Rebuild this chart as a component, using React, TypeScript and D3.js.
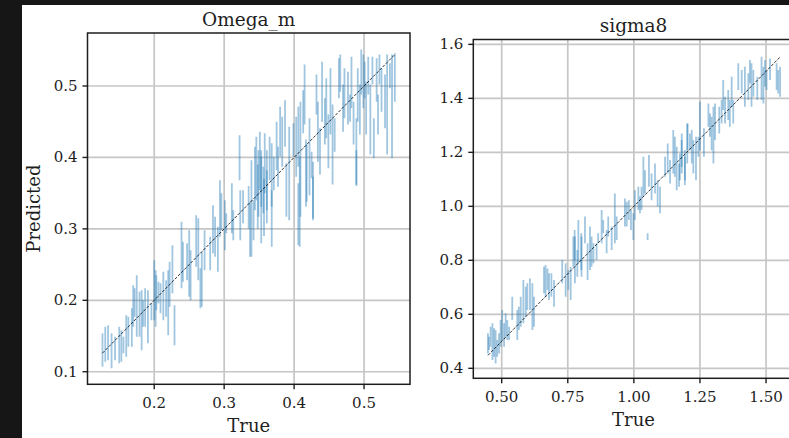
import React from "react";
import * as d3 from "d3";

// ---------- Data ----------
// Omega_m: true value, lower and upper ends of each predicted interval
const omegaTrue = [
  0.126, 0.130, 0.134, 0.139, 0.144, 0.150, 0.153, 0.156, 0.160, 0.163, 0.168, 0.170, 0.172, 0.175, 0.179, 0.182, 0.184, 0.187, 0.191, 0.196,
  0.200, 0.202, 0.203, 0.206, 0.209, 0.213, 0.217, 0.220, 0.222, 0.226, 0.229, 0.239, 0.241, 0.247, 0.250, 0.252, 0.260, 0.263, 0.268, 0.272,
  0.266, 0.280, 0.284, 0.287, 0.291, 0.294, 0.296, 0.301, 0.303, 0.311, 0.313, 0.322, 0.323, 0.327, 0.337, 0.342, 0.344, 0.346, 0.349, 0.351,
  0.353, 0.356, 0.358, 0.361, 0.365, 0.368, 0.371, 0.375, 0.377, 0.380, 0.383, 0.387, 0.389, 0.393, 0.399, 0.403, 0.406, 0.408, 0.413, 0.417,
  0.409, 0.415, 0.418, 0.422, 0.425, 0.427, 0.432, 0.434, 0.437, 0.440, 0.444, 0.446, 0.449, 0.452, 0.455, 0.458, 0.464, 0.466, 0.470, 0.472,
  0.477, 0.480, 0.482, 0.485, 0.489, 0.491, 0.494, 0.496, 0.499, 0.501, 0.503, 0.506, 0.509, 0.512, 0.514, 0.518, 0.520, 0.522, 0.525, 0.530,
  0.533, 0.537, 0.540, 0.544, 0.339, 0.353, 0.361, 0.368, 0.406, 0.427, 0.489, 0.348, 0.357, 0.335,
];
const omegaLo = [
  0.107, 0.114, 0.116, 0.105, 0.116, 0.112, 0.114, 0.126, 0.121, 0.135, 0.135, 0.163, 0.177, 0.149, 0.149, 0.130, 0.163, 0.163, 0.140, 0.172,
  0.172, 0.163, 0.186, 0.196, 0.182, 0.172, 0.177, 0.151, 0.191, 0.210, 0.137, 0.217, 0.226, 0.228, 0.205, 0.200, 0.247, 0.228, 0.191, 0.242,
  0.189, 0.242, 0.266, 0.261, 0.240, 0.289, 0.298, 0.270, 0.294, 0.294, 0.284, 0.368, 0.284, 0.308, 0.261, 0.284, 0.326, 0.340, 0.317, 0.354,
  0.331, 0.322, 0.350, 0.326, 0.368, 0.331, 0.354, 0.382, 0.359, 0.401, 0.387, 0.415, 0.317, 0.312, 0.401, 0.373, 0.387, 0.275, 0.434, 0.331,
  0.317, 0.446, 0.338, 0.347, 0.371, 0.315, 0.460, 0.394, 0.376, 0.450, 0.418, 0.427, 0.385, 0.432, 0.362, 0.408, 0.483, 0.492, 0.436, 0.455,
  0.446, 0.450, 0.469, 0.418, 0.362, 0.450, 0.432, 0.488, 0.469, 0.483, 0.432, 0.488, 0.404, 0.502, 0.399, 0.478, 0.432, 0.502, 0.464, 0.441,
  0.404, 0.497, 0.399, 0.478, 0.261, 0.280, 0.308, 0.275, 0.277, 0.312, 0.360, 0.300, 0.290, 0.300,
];
const omegaHi = [
  0.154, 0.163, 0.165, 0.154, 0.149, 0.163, 0.158, 0.149, 0.179, 0.177, 0.189, 0.221, 0.217, 0.235, 0.212, 0.214, 0.200, 0.217, 0.214, 0.196,
  0.256, 0.242, 0.235, 0.226, 0.224, 0.240, 0.228, 0.242, 0.254, 0.277, 0.193, 0.310, 0.282, 0.280, 0.298, 0.270, 0.319, 0.315, 0.268, 0.298,
  0.245, 0.289, 0.333, 0.317, 0.303, 0.368, 0.350, 0.340, 0.322, 0.364, 0.326, 0.431, 0.354, 0.354, 0.338, 0.340, 0.415, 0.429, 0.410, 0.436,
  0.401, 0.387, 0.434, 0.410, 0.429, 0.420, 0.401, 0.450, 0.415, 0.471, 0.457, 0.480, 0.392, 0.443, 0.448, 0.457, 0.471, 0.401, 0.494, 0.425,
  0.478, 0.530, 0.418, 0.455, 0.408, 0.394, 0.516, 0.478, 0.441, 0.534, 0.483, 0.511, 0.460, 0.525, 0.474, 0.455, 0.539, 0.544, 0.502, 0.525,
  0.520, 0.488, 0.541, 0.478, 0.455, 0.525, 0.502, 0.551, 0.544, 0.534, 0.506, 0.541, 0.502, 0.541, 0.455, 0.539, 0.488, 0.544, 0.525, 0.516,
  0.544, 0.532, 0.544, 0.546, 0.396, 0.410, 0.382, 0.354, 0.364, 0.373, 0.410, 0.390, 0.370, 0.360,
];

// sigma8
const sigmaTrue = [
  0.448, 0.452, 0.458, 0.465, 0.471, 0.477, 0.483, 0.490, 0.496, 0.502, 0.509, 0.515, 0.521, 0.528, 0.540, 0.559, 0.565, 0.572, 0.582, 0.591,
  0.597, 0.607, 0.616, 0.622, 0.660, 0.666, 0.673, 0.679, 0.688, 0.698, 0.729, 0.742, 0.752, 0.761, 0.771, 0.776, 0.786, 0.801,
  0.777, 0.790, 0.802, 0.815, 0.825, 0.834, 0.840, 0.847, 0.859, 0.865, 0.878, 0.884, 0.897, 0.903, 0.916, 0.928, 0.935, 0.966, 0.973, 0.981,
  0.989, 0.998, 1.004, 1.017, 1.023, 1.029, 1.036, 1.042, 1.052, 1.057, 1.067, 1.080, 1.090, 1.099, 1.118, 1.128, 1.137, 1.149, 1.155, 1.162,
  1.171, 1.181, 1.193, 1.203,
  1.174, 1.181, 1.193, 1.202, 1.212, 1.219, 1.225, 1.235, 1.244, 1.250, 1.265, 1.282, 1.288, 1.294, 1.301, 1.307, 1.323, 1.332, 1.338, 1.345,
  1.357, 1.363, 1.370, 1.376, 1.395, 1.408, 1.420, 1.433, 1.439, 1.445, 1.452, 1.467, 1.483, 1.490, 1.496, 1.502, 1.515, 1.540, 1.546, 1.553,
];
const sigmaLo = [
  0.455, 0.468, 0.480, 0.431, 0.443, 0.418, 0.443, 0.455, 0.480, 0.505, 0.480, 0.517, 0.505, 0.505, 0.579, 0.505, 0.542, 0.554, 0.567, 0.591,
  0.616, 0.616, 0.542, 0.554, 0.678, 0.665, 0.690, 0.653, 0.665, 0.628, 0.715, 0.665, 0.690, 0.653, 0.776, 0.801, 0.739, 0.764,
  0.715, 0.789, 0.739, 0.863, 0.727, 0.764, 0.776, 0.789, 0.801, 0.863, 0.863, 0.900, 0.826, 0.888, 0.838, 0.863, 0.875, 0.925, 0.925, 0.949,
  0.912, 0.875, 0.949, 0.986, 0.974, 0.986, 1.036, 1.048, 0.875, 1.073, 1.023, 1.048, 0.999, 0.974, 1.110, 1.122, 1.085, 1.122, 1.110, 1.060,
  1.073, 1.147, 1.097, 1.209,
  1.097, 1.122, 1.079, 1.159, 1.208, 1.159, 1.122, 1.097, 1.184, 1.208, 1.184, 1.295, 1.258, 1.208, 1.159, 1.246, 1.270, 1.307, 1.357, 1.307,
  1.320, 1.295, 1.369, 1.307, 1.431, 1.418, 1.369, 1.394, 1.456, 1.369, 1.406, 1.394, 1.394, 1.381, 1.443, 1.431, 1.468, 1.431, 1.418, 1.406,
];
const sigmaHi = [
  0.530, 0.517, 0.554, 0.567, 0.548, 0.542, 0.505, 0.530, 0.579, 0.616, 0.567, 0.604, 0.579, 0.554, 0.665, 0.616, 0.628, 0.665, 0.727, 0.702,
  0.715, 0.733, 0.715, 0.665, 0.776, 0.783, 0.770, 0.752, 0.752, 0.727, 0.801, 0.789, 0.764, 0.776, 0.888, 0.912, 0.838, 0.900,
  0.888, 0.949, 0.888, 0.962, 0.863, 0.925, 0.888, 0.863, 0.863, 0.900, 0.986, 0.949, 0.912, 0.962, 0.925, 1.048, 0.962, 1.029, 1.017, 1.023,
  0.986, 0.974, 1.060, 1.073, 1.036, 1.073, 1.184, 1.134, 0.900, 1.190, 1.122, 1.159, 1.097, 1.073, 1.184, 1.233, 1.172, 1.283, 1.258, 1.221,
  1.159, 1.246, 1.209, 1.307,
  1.196, 1.270, 1.184, 1.307, 1.270, 1.283, 1.246, 1.258, 1.258, 1.387, 1.289, 1.381, 1.344, 1.332, 1.369, 1.381, 1.369, 1.394, 1.468, 1.406,
  1.431, 1.394, 1.480, 1.394, 1.530, 1.505, 1.517, 1.493, 1.542, 1.530, 1.505, 1.480, 1.554, 1.517, 1.542, 1.505, 1.548, 1.530, 1.505, 1.517,
];

const omegaXTicks = [0.2, 0.3, 0.4, 0.5];
const omegaYTicks = [0.1, 0.2, 0.3, 0.4, 0.5];
const sigmaXTicks = [0.5, 0.75, 1.0, 1.25, 1.5];
const sigmaYTicks = [0.4, 0.6, 0.8, 1.0, 1.2, 1.4, 1.6];

const FONT = "'DejaVu Serif', serif";
const BAR = "#1f77b4";
const GRID = "#c6c6c6";
const SPINE = "#1e1e1e";
const TEXT = "#1e1e1e";

type PanelProps = {
  title: string;
  xs: number[];
  lo: number[];
  hi: number[];
  xDomain: [number, number];
  yDomain: [number, number];
  box: { l: number; r: number; t: number; b: number };
  xTicks: number[];
  yTicks: number[];
  xFmt: (v: number) => string;
  yFmt: (v: number) => string;
  ylabel?: string;
  clipId: string;
};

function Panel(p: PanelProps) {
  const x = d3.scaleLinear().domain(p.xDomain).range([p.box.l, p.box.r]);
  const y = d3.scaleLinear().domain(p.yDomain).range([p.box.b, p.box.t]);
  const dMin = d3.min(p.xs) as number;
  const dMax = d3.max(p.xs) as number;
  const line = d3.line<number>().x((v) => x(v)).y((v) => y(v));
  const cx = (p.box.l + p.box.r) / 2;
  const cy = (p.box.t + p.box.b) / 2;
  return (
    <g>
      <defs>
        <clipPath id={p.clipId}>
          <rect x={p.box.l} y={p.box.t} width={p.box.r - p.box.l} height={p.box.b - p.box.t} />
        </clipPath>
      </defs>
      <rect x={p.box.l} y={p.box.t} width={p.box.r - p.box.l} height={p.box.b - p.box.t} fill="#fff" />
      <g clipPath={`url(#${p.clipId})`}>
        {p.xTicks.map((t) => (
          <line key={"gx" + t} x1={x(t)} x2={x(t)} y1={p.box.t} y2={p.box.b} stroke={GRID} strokeWidth={1.7} />
        ))}
        {p.yTicks.map((t) => (
          <line key={"gy" + t} x1={p.box.l} x2={p.box.r} y1={y(t)} y2={y(t)} stroke={GRID} strokeWidth={1.7} />
        ))}
        {p.xs.map((v, i) => (
          <line
            key={"b" + i}
            x1={x(v)}
            x2={x(v)}
            y1={y(p.lo[i])}
            y2={y(p.hi[i])}
            stroke={BAR}
            strokeOpacity={0.42}
            strokeWidth={1.8}
          />
        ))}
        <path d={line([dMin, dMax]) as string} stroke="#000" strokeWidth={0.8} strokeDasharray="3,1.5" fill="none" />
      </g>
      <rect
        x={p.box.l}
        y={p.box.t}
        width={p.box.r - p.box.l}
        height={p.box.b - p.box.t}
        fill="none"
        stroke={SPINE}
        strokeWidth={1.5}
      />
      {p.xTicks.map((t) => (
        <g key={"tx" + t}>
          <line x1={x(t)} x2={x(t)} y1={p.box.b} y2={p.box.b + 5} stroke={SPINE} strokeWidth={1.4} />
          <text x={x(t)} y={p.box.b + 24} textAnchor="middle" fontFamily={FONT} fontSize={15} fill={TEXT}>
            {p.xFmt(t)}
          </text>
        </g>
      ))}
      {p.yTicks.map((t) => (
        <g key={"ty" + t}>
          <line x1={p.box.l - 5} x2={p.box.l} y1={y(t)} y2={y(t)} stroke={SPINE} strokeWidth={1.4} />
          <text x={p.box.l - 10} y={y(t) + 5} textAnchor="end" fontFamily={FONT} fontSize={15} fill={TEXT}>
            {p.yFmt(t)}
          </text>
        </g>
      ))}
      <text x={cx} y={p.box.t - 7.5} textAnchor="middle" fontFamily={FONT} fontSize={18.5} fill={TEXT}>
        {p.title}
      </text>
      <text x={cx} y={p.box.b + 48} textAnchor="middle" fontFamily={FONT} fontSize={18} fill={TEXT}>
        True
      </text>
      {p.ylabel && (
        <text
          transform={`translate(${p.box.l - 48},${cy}) rotate(-90)`}
          textAnchor="middle"
          fontFamily={FONT}
          fontSize={18}
          fill={TEXT}
        >
          {p.ylabel}
        </text>
      )}
    </g>
  );
}

export default function App() {
  const W = 789;
  const H = 438;
  return (
    <svg
      width={W}
      height={H}
      style={{ position: "absolute", left: 0, top: 0, display: "block" }}
    >
      <rect x={0} y={0} width={W} height={H} fill="#161616" />
      <rect x={22} y={5} width={W - 22} height={H - 5} fill="#ffffff" />
      <Panel
        title="Omega_m"
        xs={omegaTrue}
        lo={omegaLo}
        hi={omegaHi}
        xDomain={[0.1046, 0.5657]}
        yDomain={[0.0824, 0.5742]}
        box={{ l: 87.5, r: 410, t: 33, b: 384.3 }}
        xTicks={omegaXTicks}
        yTicks={omegaYTicks}
        xFmt={d3.format(".1f")}
        yFmt={d3.format(".1f")}
        ylabel="Predicted"
        clipId="clipOmega"
      />
      <Panel
        title="sigma8"
        xs={sigmaTrue}
        lo={sigmaLo}
        hi={sigmaHi}
        xDomain={[0.3926, 1.605]}
        yDomain={[0.363, 1.618]}
        box={{ l: 473.3, r: 793.8, t: 39.5, b: 378.3 }}
        xTicks={sigmaXTicks}
        yTicks={sigmaYTicks}
        xFmt={d3.format(".2f")}
        yFmt={d3.format(".1f")}
        clipId="clipSigma"
      />
    </svg>
  );
}
